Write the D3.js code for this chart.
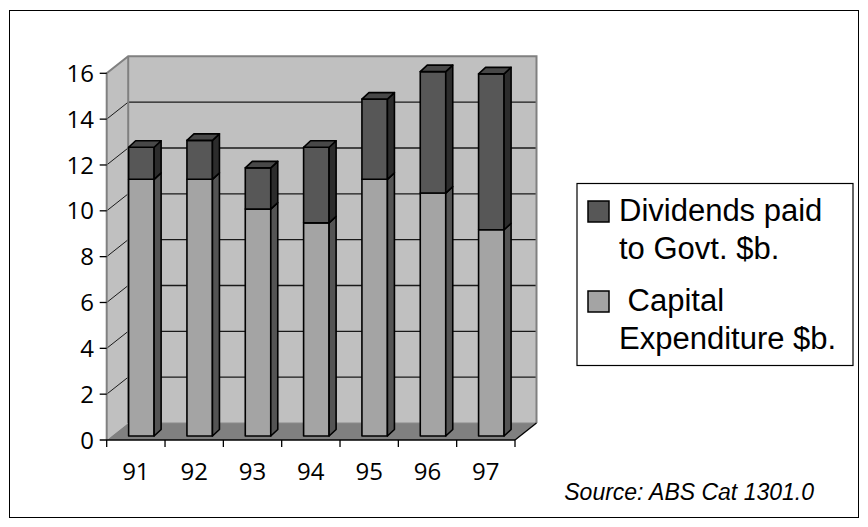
<!DOCTYPE html>
<html>
<head>
<meta charset="utf-8">
<script src="https://cdn.jsdelivr.net/npm/d3@7"></script>
<style>
  html, body { margin: 0; padding: 0; background: #fff; }
  svg { display: block; }
</style>
</head>
<body>
<svg id="chart" width="868" height="527"></svg>
<script>
// Years (financial year ending) shown on the category axis
const categories = ["91", "92", "93", "94", "95", "96", "97"];
// Capital expenditure, $ billion (bottom segment)
const capital = [11.2, 11.2, 9.9, 9.3, 11.2, 10.6, 9.0];
// Dividends paid to government, $ billion (stacked on top)
const dividends = [1.4, 1.7, 1.8, 3.3, 3.5, 5.3, 6.8];
// Value-axis ticks
const yTicks = [0, 2, 4, 6, 8, 10, 12, 14, 16];
const seriesNames = ["Dividends paid\nto Govt. $b.", " Capital\nExpenditure $b."];

const svg = d3.select("#chart");

// Outer chart-area frame
svg.append("rect")
  .attr("x", 9.5).attr("y", 10.5).attr("width", 849).attr("height", 507)
  .attr("fill", "#fff").attr("stroke", "#000").attr("stroke-width", 1);

// Oblique 3-D frame: front plane, wall depth offset, bar offsets
const x0 = 106.7, x1 = 515;
const wallDX = 21.5, wallDY = -17;
const x = d3.scaleBand().domain(categories).range([x0, x1]).padding(0);
const yFront = d3.scaleLinear().domain([0, 16]).range([440, 73.3]);
const yBack = v => yFront(v) + wallDY;
const barShiftX = 5.5, barShiftY = -4;
const barDX = 7, barDY = -6.5;
const barW = 25.5;
const yBar = v => yFront(v) + barShiftY;

const g = svg.append("g");

// Back wall
g.append("rect")
  .attr("x", x0 + wallDX).attr("y", yBack(16))
  .attr("width", x1 - x0).attr("height", yBack(0) - yBack(16))
  .attr("fill", "#c0c0c0");

// Left side wall
g.append("polygon")
  .attr("points", [[x0, yFront(0)], [x0, yFront(16)], [x0 + wallDX, yBack(16)], [x0 + wallDX, yBack(0)]].join(" "))
  .attr("fill", "#c0c0c0");

// Floor
g.append("polygon")
  .attr("points", [[x0, yFront(0)], [x0 + wallDX, yBack(0)], [x1 + wallDX, yBack(0)], [x1, yFront(0)]].join(" "))
  .attr("fill", "#808080");

// Gridlines on the back wall and the side wall
const gridVals = yTicks.filter(v => v > 0 && v < 16);
g.selectAll("line.grid-back").data(gridVals).join("line")
  .attr("x1", x0 + wallDX).attr("x2", x1 + wallDX)
  .attr("y1", d => yBack(d)).attr("y2", d => yBack(d))
  .attr("stroke", "#1a1a1a").attr("stroke-width", 1.3);
g.selectAll("line.grid-side").data(yTicks.filter(v => v > 0 && v < 16)).join("line")
  .attr("x1", x0).attr("y1", d => yFront(d))
  .attr("x2", x0 + wallDX).attr("y2", d => yBack(d))
  .attr("stroke", "#1a1a1a").attr("stroke-width", 1);

// Wall edges
const edge = "#808080";
g.append("polyline")
  .attr("points", [[x0, yFront(0)], [x0, yFront(16)], [x0 + wallDX, yBack(16)], [x1 + wallDX, yBack(16)], [x1 + wallDX, yBack(0)]].join(" "))
  .attr("fill", "none").attr("stroke", edge).attr("stroke-width", 2);
g.append("line")
  .attr("x1", x0 + wallDX).attr("y1", yBack(16)).attr("x2", x0 + wallDX).attr("y2", yBack(0))
  .attr("stroke", edge).attr("stroke-width", 2);
g.append("line")
  .attr("x1", x0 + wallDX).attr("y1", yBack(0)).attr("x2", x1 + wallDX).attr("y2", yBack(0))
  .attr("stroke", "#8a8a8a").attr("stroke-width", 1);

// Stacked 3-D bars
const colors = {
  capFront: "#a4a4a4", capSide: "#545454",
  divFront: "#575757", divSide: "#2c2c2c", divTop: "#484848"
};
const segments = [];
categories.forEach((c, i) => {
  segments.push({ cat: c, lo: 0, hi: capital[i], front: colors.capFront, side: colors.capSide, top: colors.capFront, isTop: false });
  segments.push({ cat: c, lo: capital[i], hi: capital[i] + dividends[i], front: colors.divFront, side: colors.divSide, top: colors.divTop, isTop: true });
});
const bars = g.append("g").attr("stroke", "#000").attr("stroke-width", 1.6).attr("stroke-linejoin", "round");
const bx = c => x(c) + (x.bandwidth() - barW) / 2 + barShiftX;
segments.forEach(s => {
  const L = bx(s.cat), R = L + barW, yT = yBar(s.hi), yB = yBar(s.lo);
  bars.append("rect").attr("x", L).attr("y", yT).attr("width", barW).attr("height", yB - yT).attr("fill", s.front);
  bars.append("polygon")
    .attr("points", [[R, yB], [R, yT], [R + barDX, yT + barDY], [R + barDX, yB + barDY]].join(" "))
    .attr("fill", s.side);
  if (s.isTop) {
    bars.append("polygon")
      .attr("points", [[L, yT], [L + barDX, yT + barDY], [R + barDX, yT + barDY], [R, yT]].join(" "))
      .attr("fill", s.top);
  }
});

// Category axis: front floor edge, right floor edge, tick marks
const axisG = svg.append("g").attr("stroke", "#000").attr("stroke-width", 1.3);
axisG.append("line").attr("x1", x0 - 7).attr("x2", x1).attr("y1", yFront(0)).attr("y2", yFront(0));
axisG.append("line").attr("x1", x1).attr("y1", yFront(0)).attr("x2", x1 + wallDX).attr("y2", yBack(0));
const catTicks = categories.map(c => x(c)).concat([x1]);
axisG.selectAll("line.ct").data(catTicks).join("line")
  .attr("x1", d => d).attr("x2", d => d).attr("y1", yFront(0)).attr("y2", yFront(0) + 7);
axisG.selectAll("line.vt").data(yTicks.filter(v => v > 0)).join("line")
  .attr("x1", x0 - 7).attr("x2", x0).attr("y1", d => yFront(d)).attr("y2", d => yFront(d));

// Axis labels
const axisFont = "'Open Sans', 'Noto Sans', sans-serif";
svg.append("g").selectAll("text").data(yTicks).join("text")
  .attr("x", 94).attr("y", d => yFront(d)).attr("dy", "0.36em")
  .attr("text-anchor", "end")
  .attr("font-family", axisFont).attr("font-size", 24).attr("fill", "#000")
  .text(d => d);
svg.append("g").selectAll("text").data(categories).join("text")
  .attr("x", d => x(d) + x.bandwidth() / 2).attr("y", 480)
  .attr("text-anchor", "middle")
  .attr("font-family", axisFont).attr("font-size", 24).attr("fill", "#000")
  .text(d => d);

// Legend
const lg = svg.append("g");
lg.append("rect").attr("x", 577).attr("y", 183.5).attr("width", 276).attr("height", 182)
  .attr("fill", "#fff").attr("stroke", "#000").attr("stroke-width", 1.2);
const legendFont = "'Liberation Sans', Arial, sans-serif";
const legendItems = [
  { name: seriesNames[0], color: colors.divFront, y: 221 },
  { name: seriesNames[1], color: colors.capFront, y: 311 }
];
legendItems.forEach(it => {
  lg.append("rect").attr("x", 588).attr("y", it.y - 20).attr("width", 21).attr("height", 21)
    .attr("fill", it.color).attr("stroke", "#000").attr("stroke-width", 1.5);
  const t = lg.append("text").attr("font-family", legendFont).attr("font-size", 31)
    .attr("fill", "#000").attr("xml:space", "preserve").style("white-space", "pre");
  it.name.split("\n").forEach((line, k) => {
    t.append("tspan").attr("x", 619).attr("y", it.y + k * 38).text(line);
  });
});

// Source note
svg.append("text")
  .attr("x", 814).attr("y", 500).attr("text-anchor", "end")
  .attr("font-family", legendFont).attr("font-style", "italic").attr("font-size", 23)
  .attr("fill", "#000")
  .text("Source: ABS Cat 1301.0");
</script>
</body>
</html>
